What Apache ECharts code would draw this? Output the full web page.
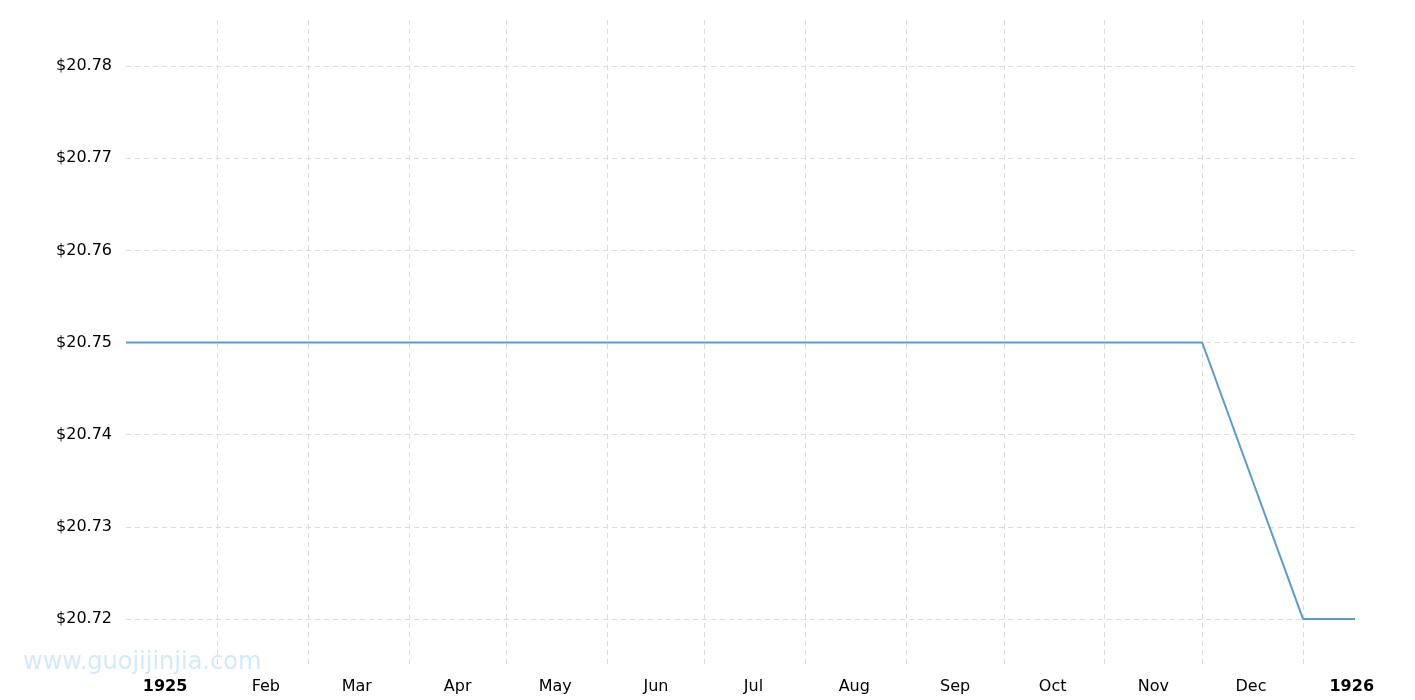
<!DOCTYPE html>
<html>
<head>
<meta charset="utf-8">
<script src="https://cdn.jsdelivr.net/npm/echarts@6/dist/echarts.min.js"></script>
<style>html,body{margin:0;padding:0;background:#fff}#c{width:1415px;height:700px}</style>
</head>
<body>
<div id="c"></div>
<script>
// Data (monthly gold price, USD/oz)
const dates  = ['1925-01-04','1925-02-01','1925-03-01','1925-04-01','1925-05-01','1925-06-01','1925-07-01','1925-08-01','1925-09-01','1925-10-01','1925-11-01','1925-12-01','1926-01-01','1926-01-17'];
const prices = [20.75,20.75,20.75,20.75,20.75,20.75,20.75,20.75,20.75,20.75,20.75,20.75,20.72,20.72];
// Tick labels by month (year shown for January)
const monthLabels = {'1925-01':'1925','1925-02':'Feb','1925-03':'Mar','1925-04':'Apr','1925-05':'May','1925-06':'Jun','1925-07':'Jul','1925-08':'Aug','1925-09':'Sep','1925-10':'Oct','1925-11':'Nov','1925-12':'Dec','1926-01':'1926'};
const axisStart = '1925-01-04', axisEnd = '1926-01-17';

// day categories for the x axis
const days = [];
for (let t = Date.parse(axisStart + 'T00:00:00Z'); t <= Date.parse(axisEnd + 'T00:00:00Z'); t += 86400000) {
  days.push(new Date(t).toISOString().slice(0, 10));
}
const seriesData = dates.map((d, i) => [d, prices[i]]);

const chart = echarts.init(document.getElementById('c'));
const font = 'DejaVu Sans, Verdana, sans-serif';
chart.setOption({
  animation: false,
  backgroundColor: '#fff',
  grid: {left: 126, right: 60, top: 20, bottom: 35, containLabel: false},
  xAxis: {
    type: 'category',
    data: days,
    boundaryGap: false,
    axisLine: {show: false},
    axisTick: {show: false},
    axisLabel: {
      interval: (i, v) => v.slice(8) === '16',
      margin: 14,
      color: '#000',
      fontSize: 16,
      fontFamily: font,
      formatter: (v) => {
        const s = monthLabels[v.slice(0, 7)] || '';
        return /^\d{4}$/.test(s) ? '{b|' + s + '}' : s;
      },
      rich: {b: {fontWeight: 'bold', fontSize: 16, fontFamily: font, color: '#000'}}
    },
    splitLine: {
      show: true,
      interval: (i, v) => v.slice(8) === '01',
      lineStyle: {color: '#dcdcdc', type: [5, 4], width: 1}
    }
  },
  yAxis: {
    type: 'value',
    min: 20.715,
    max: 20.785,
    splitNumber: 7,
    axisLine: {show: false},
    axisTick: {show: false},
    axisLabel: {
      showMinLabel: false,
      showMaxLabel: false,
      margin: 14,
      color: '#000',
      fontSize: 16,
      fontFamily: font,
      padding: [3, 0, 0, 0],
      formatter: (v) => '$' + v.toFixed(2)
    },
    splitLine: {
      show: true,
      showMinLine: false,
      showMaxLine: false,
      lineStyle: {color: '#dcdcdc', type: [5, 4], width: 1}
    }
  },
  graphic: [{
    type: 'text', left: 23, top: 651,
    style: {text: 'www.guojijinjia.com', fill: '#d3eafc', font: '24px DejaVu Sans, sans-serif'}
  }],
  series: [{
    type: 'line',
    data: seriesData,
    showSymbol: false,
    lineStyle: {color: '#5b9bd5', width: 2},
    itemStyle: {color: '#5b9bd5'}
  }]
});
</script>
</body>
</html>
